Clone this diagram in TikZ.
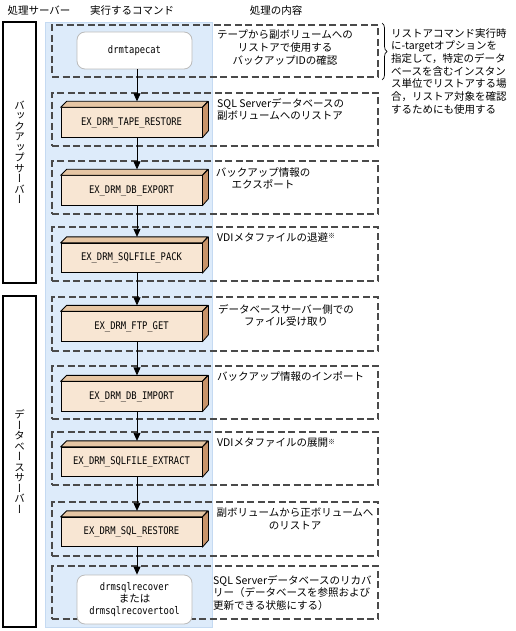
\documentclass[tikz,border=0pt]{standalone}
\usepackage{fontspec}
\setmainfont{Noto Sans CJK JP}
\newfontfamily\vfont[RawFeature=+vert]{Noto Sans CJK JP}
\newfontfamily\cmdfont[FakeStretch=0.84]{DejaVu Sans Mono}
\usetikzlibrary{arrows.meta,decorations.pathreplacing}
\definecolor{colbg}{HTML}{DDEBFA}
\definecolor{colbd}{HTML}{C5DAF2}
\definecolor{frontc}{HTML}{F8E6D3}
\definecolor{topc}{HTML}{E6C6A4}
\definecolor{sidec}{HTML}{C8946A}
\definecolor{dashc}{HTML}{4A4A4A}
\definecolor{rbd}{HTML}{BBBBBB}
\newcommand\drmbox[3]{%
  \node[frontbox] (#1) at (131.5,#2) {#3};
  \filldraw[facestyle, fill=topc] (#1.north west) -- ++(6,-6) -- ++(141,0) -- (#1.north east) -- cycle;
  \filldraw[facestyle, fill=sidec] (#1.north east) -- ++(6,-6) -- ++(0,29.5) -- (#1.south east) -- cycle;
}
\newcommand\smallnote{{\fontsize{7}{7}\selectfont\raisebox{2.5pt}{※}}}
\begin{document}
\begin{tikzpicture}[x=1pt,y=-1pt,
  jp/.style={font=\fontsize{10.5}{12.6}\selectfont, inner sep=0pt},
  cmd/.style={font=\cmdfont\fontsize{10.5}{12}\selectfont},
  srvbox/.style={draw=black, line width=1.2pt, fill=white, minimum width=33pt, inner sep=0pt,
     align=center, font=\vfont\fontsize{10.5}{10.5}\selectfont},
  dashbox/.style={draw=dashc, line width=1.1pt, dash pattern=on 7pt off 3.5pt, minimum width=326pt, inner sep=0pt},
  roundbox/.style={draw=rbd, line width=0.8pt, fill=white, rounded corners=8pt, minimum width=115pt, inner sep=0pt, align=center, cmd},
  frontbox/.style={draw=black, line width=0.8pt, fill=frontc, minimum width=141pt, minimum height=29.5pt, inner sep=0pt, cmd},
  facestyle/.style={draw=black, line width=0.8pt, line join=round},
  arr/.style={draw=black, line width=0.8pt, -{Triangle[length=8pt,width=7pt]}},
  bracestyle/.style={draw=black, line width=0.7pt, decorate, decoration={brace, amplitude=5pt}}]
\useasboundingbox (0,0) rectangle (516,631);
\fill[white] (0,0) rectangle (516,631);
% column background
\filldraw[fill=colbg, draw=colbd, line width=0.8pt] (45,22) rectangle (212,627);
% headers
\node[jp] (h1) at (39,11) {処理サーバー};
\node[jp] (h2) at (132,11) {実行するコマンド};
\node[jp] (h3) at (276,11) {処理の内容};
% server boxes
\node[srvbox, minimum height=261pt] (s1) at (19.5,152.5) {バ\\ッ\\ク\\ア\\ッ\\プ\\サ\\ー\\バ\\ー};
\node[srvbox, minimum height=331pt] (s2) at (19.5,461.5) {デ\\ー\\タ\\ベ\\ー\\ス\\サ\\ー\\バ\\ー};
% dashed rows
\node[dashbox, minimum height=52pt] (r1) at (215,51) {};
\node[dashbox, minimum height=53pt] (r2) at (215,119.5) {};
\node[dashbox, minimum height=53pt] (r3) at (215,187.5) {};
\node[dashbox, minimum height=54pt] (r4) at (215,254) {};
\node[dashbox, minimum height=54pt] (r5) at (215,324) {};
\node[dashbox, minimum height=53pt] (r6) at (215,392.5) {};
\node[dashbox, minimum height=53pt] (r7) at (215,458.5) {};
\node[dashbox, minimum height=54pt] (r8) at (215,529) {};
\node[dashbox, minimum height=53pt] (r9) at (215,592.5) {};
% command boxes
\node[roundbox, minimum height=37pt] (c1) at (134.5,50.5) {drmtapecat};
\drmbox{b2}{122.5}{EX\_DRM\_TAPE\_RESTORE}
\drmbox{b3}{190.5}{EX\_DRM\_DB\_EXPORT}
\drmbox{b4}{258}{EX\_DRM\_SQLFILE\_PACK}
\drmbox{b5}{326.5}{EX\_DRM\_FTP\_GET}
\drmbox{b6}{396.5}{EX\_DRM\_DB\_IMPORT}
\drmbox{b7}{462}{EX\_DRM\_SQLFILE\_EXTRACT}
\drmbox{b8}{532}{EX\_DRM\_SQL\_RESTORE}
\node[roundbox, minimum height=49pt] (c9) at (134.5,599.5) {drmsqlrecover\\{\rmfamily\fontsize{10.5}{12}\selectfont または}\\drmsqlrecovertool};
% arrows
\draw[arr] ([xshift=2.5pt]c1.south) -- ([xshift=5.5pt,yshift=6pt]b2.north);
\draw[arr] ([xshift=5.5pt]b2.south) -- ([xshift=5.5pt,yshift=6pt]b3.north);
\draw[arr] ([xshift=5.5pt]b3.south) -- ([xshift=5.5pt,yshift=6pt]b4.north);
\draw[arr] ([xshift=5.5pt]b4.south) -- ([xshift=5.5pt,yshift=6pt]b5.north);
\draw[arr] ([xshift=5.5pt]b5.south) -- ([xshift=5.5pt,yshift=6pt]b6.north);
\draw[arr] ([xshift=5.5pt]b6.south) -- ([xshift=5.5pt,yshift=6pt]b7.north);
\draw[arr] ([xshift=5.5pt]b7.south) -- ([xshift=5.5pt,yshift=6pt]b8.north);
\draw[arr] ([xshift=5.5pt]b8.south) -- ([xshift=2.5pt]c9.north);
% descriptions
\node[jp, align=center, anchor=north] (d1) at (285,30) {テープから副ボリュームへの\\リストアで使用する\\バックアップIDの確認};
\coordinate (bt) at (382,23);
\coordinate (bb) at (382,80);
\draw[bracestyle] (bt) -- (bb);
\node[jp, align=left, anchor=north west, font=\fontsize{10.5}{12.7}\selectfont] (note) at (391,28)
  {リストアコマンド実行時\\に-targetオプションを\\指定して，特定のデータ\\ベースを含むインスタン\\ス単位でリストアする場\\合，リストア対象を確認\\するためにも使用する};
\node[jp, align=left, anchor=north west] (d2) at (217,98) {SQL Serverデータベースの\\副ボリュームへのリストア};
\node[jp, align=center, anchor=north] (d3) at (263,167) {バックアップ情報の\\エクスポート};
\node[jp, anchor=north west] (d4) at (217,232) {VDIメタファイルの退避\smallnote};
\node[jp, align=center, anchor=north] (d5) at (286,304) {データベースサーバー側での\\ファイル受け取り};
\node[jp, anchor=north west] (d6) at (217,371) {バックアップ情報のインポート};
\node[jp, anchor=north west] (d7) at (217,438) {VDIメタファイルの展開\smallnote};
\node[jp, align=center, anchor=north] (d8) at (295,508) {副ボリュームから正ボリュームへ\\のリストア};
\node[jp, align=left, anchor=north west] (d9) at (213,575) {SQL Serverデータベースのリカバ\\リー（データベースを参照および\\更新できる状態にする）};
\end{tikzpicture}
\end{document}
